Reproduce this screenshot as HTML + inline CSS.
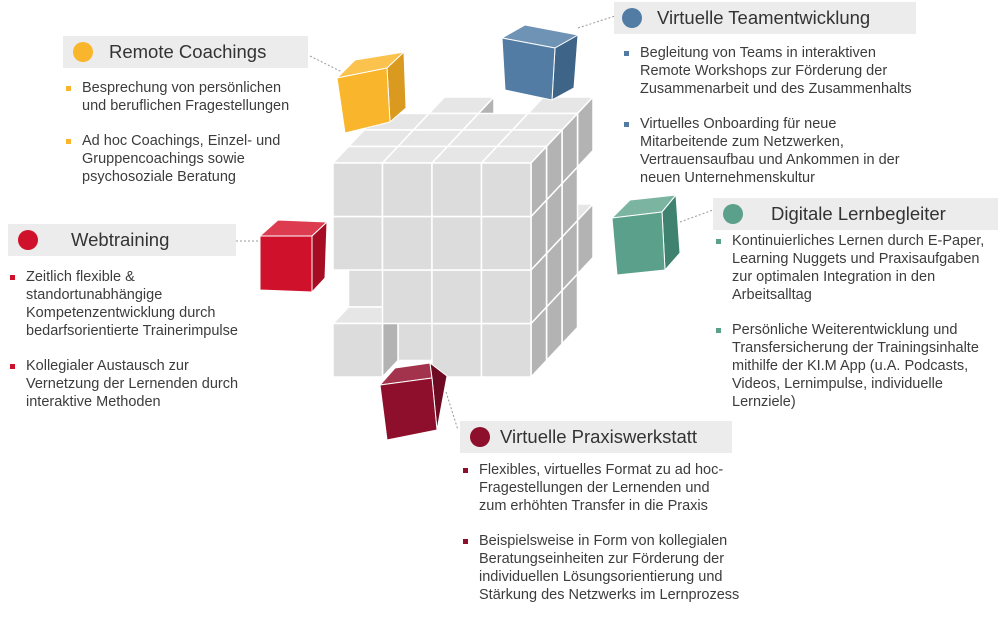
<!DOCTYPE html>
<html><head><meta charset="utf-8"><style>
body{margin:0;width:1000px;height:612px;background:#fff;position:relative;overflow:hidden;font-family:"Liberation Sans",sans-serif;color:#3c3c3c}
.hd{position:absolute;background:#ececec;height:32px;font-size:18.5px;line-height:32px;color:#333}
.hd i{position:absolute;top:6px;width:20px;height:20px;border-radius:50%}
.hd span{position:absolute;top:0;white-space:nowrap}
.bl{position:absolute;font-size:14.5px;line-height:18px;white-space:nowrap}
.bl p{margin:0 0 17px 0;position:relative}
.bl p:before{content:"";position:absolute;left:-16px;top:7px;width:5px;height:5px;background:var(--c)}
svg{position:absolute;left:0;top:0}
</style></head><body>
<svg id="sv" width="1000" height="612">
<g stroke="#999" stroke-width="1" stroke-dasharray="2,2" fill="none">
<line x1="310" y1="56" x2="342" y2="72"/>
<line x1="236" y1="241" x2="262" y2="241"/>
<line x1="578" y1="28" x2="615" y2="16"/>
<line x1="680" y1="222" x2="713" y2="210"/>
<line x1="446" y1="392" x2="458" y2="430"/>
</g>
<g id="cube" stroke="#fff" stroke-width="1.5" stroke-linejoin="round"></g>
<g stroke="#fff" stroke-width="1" stroke-linejoin="round">
<polygon points="337,78 355,60 404,52 387,68" fill="#fbc24e"/>
<polygon points="387,68 404,52 406,108 390,122" fill="#d99a1f"/>
<polygon points="337,78 387,68 390,122 345,133" fill="#f9b52c"/>
<polygon points="502,38 525,25 578,35 555,48" fill="#6f93b5"/>
<polygon points="555,48 578,35 574,88 552,100" fill="#3e6488"/>
<polygon points="502,38 555,48 552,100 505,90" fill="#527ca3"/>
<polygon points="260,236 278,220 327,222 312,236" fill="#dd3b4f"/>
<polygon points="312,236 327,222 325,278 312,292" fill="#a60c22"/>
<polygon points="260,236 312,236 312,292 260,290" fill="#d0112b"/>
<polygon points="612,218 630,200 676,195 662,212" fill="#7bb5a2"/>
<polygon points="662,212 676,195 680,253 665,270" fill="#3f8270"/>
<polygon points="612,218 662,212 665,270 617,275" fill="#5aa08a"/>
<polygon points="380,385 395,368 430,363 432,378" fill="#a3324d"/>
<polygon points="432,378 430,363 447,376 437,430" fill="#6e0a21"/>
<polygon points="380,385 432,378 437,430 387,440" fill="#8d0f2c"/>
</g>
</svg>
<script>
var g=document.getElementById('cube'),s='';
var W=49.5,H=53.5,dx=15.5,dy=-16.5;
var miss={'0,0,3':1,'2,0,3':1,'0,2,0':1,'1,3,0':1,'3,1,3':1,'3,3,3':1};
function P(a){return a.map(function(p){return p[0].toFixed(1)+','+p[1].toFixed(1)}).join(' ')}
for(var k=3;k>=0;k--)for(var j=3;j>=0;j--)for(var i=0;i<4;i++){
 if(miss[i+','+j+','+k])continue;
 var x=333+W*i+dx*k,y=163+H*j+dy*k;
 s+='<polygon fill="#e6e6e6" points="'+P([[x,y],[x+dx,y+dy],[x+W+dx,y+dy],[x+W,y]])+'"/>';
 s+='<polygon fill="#b3b3b3" points="'+P([[x+W,y],[x+W+dx,y+dy],[x+W+dx,y+H+dy],[x+W,y+H]])+'"/>';
 s+='<polygon fill="#dcdcdc" points="'+P([[x,y],[x+W,y],[x+W,y+H],[x,y+H]])+'"/>';
}
g.innerHTML=s;
</script>

<div class="hd" style="left:63px;top:36px;width:245px"><i style="left:10px;background:#f9b52c"></i><span style="left:46px">Remote Coachings</span></div>
<div class="bl" style="left:82px;top:79px;--c:#f9b52c"><p>Besprechung von persönlichen<br>und beruflichen Fragestellungen</p><p>Ad hoc Coachings, Einzel- und<br>Gruppencoachings sowie<br>psychosoziale Beratung</p></div>

<div class="hd" style="left:8px;top:224px;width:228px"><i style="left:10px;background:#d0112b"></i><span style="left:63px">Webtraining</span></div>
<div class="bl" style="left:26px;top:268px;--c:#d0112b"><p>Zeitlich flexible &amp;<br>standortunabhängige<br>Kompetenzentwicklung durch<br>bedarfsorientierte Trainerimpulse</p><p>Kollegialer Austausch zur<br>Vernetzung der Lernenden durch<br>interaktive Methoden</p></div>

<div class="hd" style="left:614px;top:2px;width:302px"><i style="left:8px;background:#527ca3"></i><span style="left:43px">Virtuelle Teamentwicklung</span></div>
<div class="bl" style="left:640px;top:44px;--c:#527ca3"><p>Begleitung von Teams in interaktiven<br>Remote Workshops zur Förderung der<br>Zusammenarbeit und des Zusammenhalts</p><p>Virtuelles Onboarding für neue<br>Mitarbeitende zum Netzwerken,<br>Vertrauensaufbau und Ankommen in der<br>neuen Unternehmenskultur</p></div>

<div class="hd" style="left:713px;top:198px;width:285px"><i style="left:10px;background:#5aa08a"></i><span style="left:58px">Digitale Lernbegleiter</span></div>
<div class="bl" style="left:732px;top:232px;--c:#5aa08a"><p>Kontinuierliches Lernen durch E-Paper,<br>Learning Nuggets und Praxisaufgaben<br>zur optimalen Integration in den<br>Arbeitsalltag</p><p>Persönliche Weiterentwicklung und<br>Transfersicherung der Trainingsinhalte<br>mithilfe der KI.M App (u.A. Podcasts,<br>Videos, Lernimpulse, individuelle<br>Lernziele)</p></div>

<div class="hd" style="left:460px;top:421px;width:272px"><i style="left:10px;background:#8d0f2c"></i><span style="left:40px">Virtuelle Praxiswerkstatt</span></div>
<div class="bl" style="left:479px;top:461px;--c:#8d0f2c"><p>Flexibles, virtuelles Format zu ad hoc-<br>Fragestellungen der Lernenden und<br>zum erhöhten Transfer in die Praxis</p><p>Beispielsweise in Form von kollegialen<br>Beratungseinheiten zur Förderung der<br>individuellen Lösungsorientierung und<br>Stärkung des Netzwerks im Lernprozess</p></div>
</body></html>
